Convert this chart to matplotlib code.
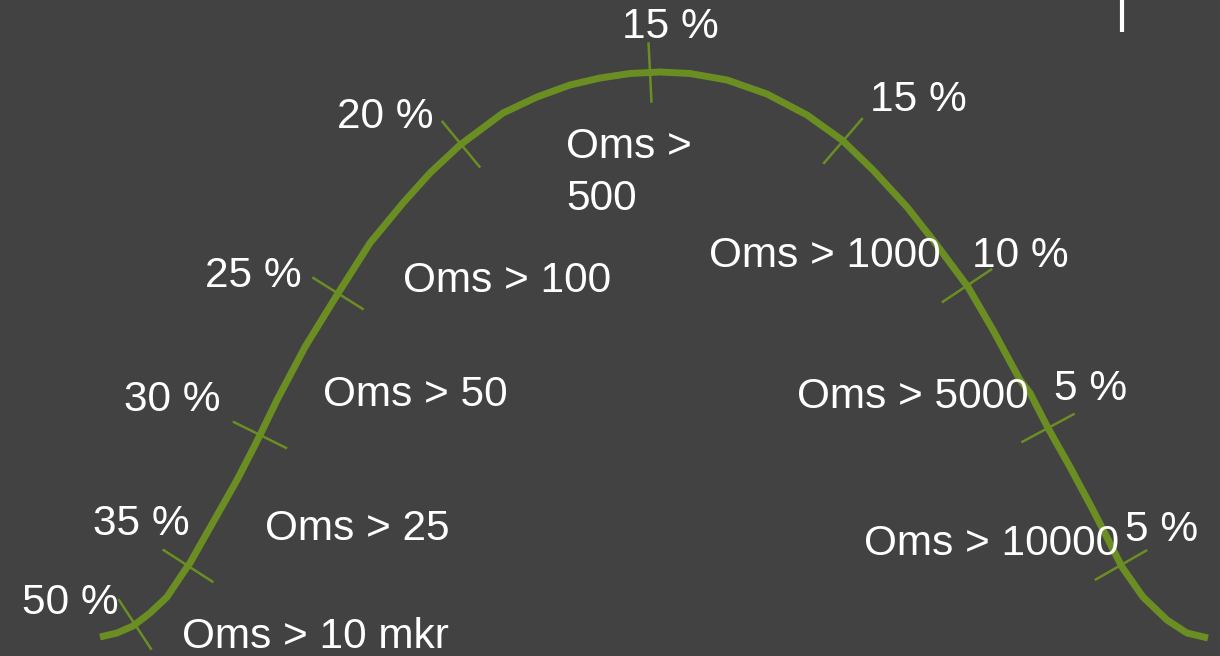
import numpy as np
import matplotlib
matplotlib.use("Agg")
import matplotlib.pyplot as plt

# ------------------------------------------
# data (pixel space, y down)
# ------------------------------------------
curve_x = [100, 117, 133, 150, 167, 183, 190, 203, 220, 237, 253, 262, 277,
           305, 337, 370, 403, 430, 460, 503, 537, 570, 600, 630, 660,
           690, 727, 767, 807, 842, 873, 907, 933, 968, 993, 1020,
           1030, 1048, 1070, 1093, 1122, 1143, 1167, 1187, 1208]
curve_y = [637, 633, 626, 613, 597, 573, 563, 540, 510, 480, 449, 431, 400,
           347, 295, 243, 203, 173, 145, 113, 97, 85, 78, 73.5, 72,
           73.5, 80, 94, 115, 140, 170, 207, 240, 287, 330, 380,
           393, 428, 467, 510, 567, 597, 620, 633, 638]

tick_x = [135, 188, 260, 338, 461, 650, 843, 967, 1048, 1121]
pct_labels = ["50 %", "35 %", "30 %", "25 %", "20 %", "15 %", "15 %", "10 %", "5 %", "5 %"]
oms_labels = ["Oms > 10 mkr", "Oms > 25", "Oms > 50", "Oms > 100", "Oms >\n500",
              "Oms > 1000", "Oms > 5000", "Oms > 10000"]

# text anchor positions (left, baseline)
pct_pos = [(22, 614), (93, 535), (124, 411), (205, 287), (337, 128), (622, 38),
           (870, 111), (972, 267), (1054, 400), (1125, 541)]
oms_pos = [(182, 648), (265, 540), (323, 406), (403, 292), (566, 158),
           (709, 267), (797, 408), (864, 555)]

BG = "#424242"
GREEN = "#6b8e23"
FS = 30.5

plt.rcParams['font.family'] = ['Liberation Sans', 'DejaVu Sans']

fig = plt.figure(figsize=(12.2, 6.56), dpi=100, facecolor=BG)
ax = fig.add_axes([0, 0, 1, 1])
ax.set_facecolor(BG)
ax.set_xlim(0, 1220)
ax.set_ylim(656, 0)
ax.axis('off')

ax.plot(curve_x, curve_y, color=GREEN, lw=5, solid_capstyle='butt',
        solid_joinstyle='round', zorder=2)

# ticks perpendicular to the curve
half = 29
for tx in tick_x:
    ty = np.interp(tx, curve_x, curve_y)
    dx = 12.0
    dy = np.interp(tx + 6, curve_x, curve_y) - np.interp(tx - 6, curve_x, curve_y)
    n = np.hypot(dx, dy)
    nx, ny = -dy / n, dx / n
    ax.plot([tx - nx * half, tx + nx * half], [ty - ny * half, ty + ny * half],
            color=GREEN, lw=1.8, zorder=2)

for lab, (x, y) in zip(pct_labels, pct_pos):
    ax.text(x, y, lab, color='white', fontsize=FS, va='baseline', ha='left', zorder=3)

for lab, (x, y) in zip(oms_labels, oms_pos):
    # the two-line label is written line by line
    for i, line in enumerate(lab.split("\n")):
        ax.text(x, y + 52 * i, line, color='white', fontsize=FS, va='baseline',
                ha='left', zorder=3)

# small white bar at the top right
ax.plot([1122, 1122], [0, 32], color='white', lw=3, solid_capstyle='butt', zorder=3)

fig.savefig("out.png", dpi=100, facecolor=BG)
